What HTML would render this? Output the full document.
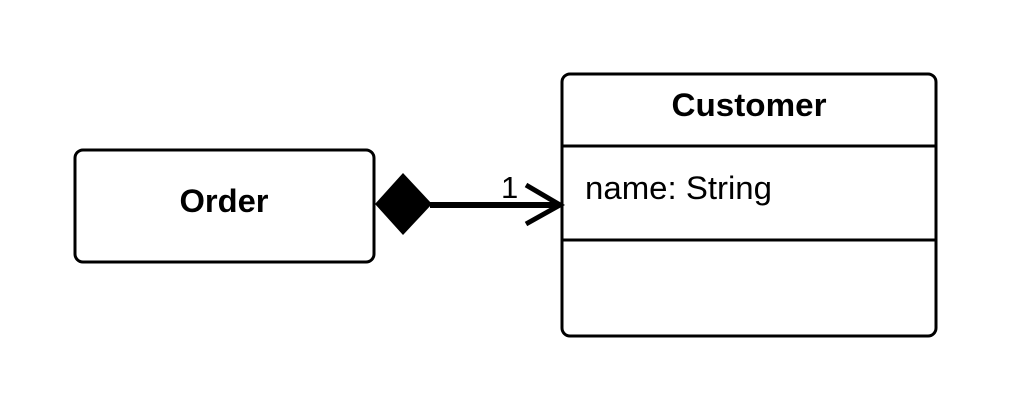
<!DOCTYPE html>
<html><head><style>body{margin:0;background:#fff}svg{display:block}</style></head>
<body>
<svg width="1013" height="413" xmlns="http://www.w3.org/2000/svg" font-family="Liberation Sans, sans-serif">
<rect width="1013" height="413" fill="#fff"/>
<rect x="75" y="150" width="299" height="112" rx="8" fill="#fff" stroke="#000" stroke-width="3"/>
<text x="224" y="212" text-anchor="middle" font-size="32" font-weight="bold" textLength="89" lengthAdjust="spacingAndGlyphs">Order</text>
<rect x="562" y="74" width="374" height="262" rx="8" fill="#fff" stroke="#000" stroke-width="3"/>
<line x1="562" y1="146" x2="936" y2="146" stroke="#000" stroke-width="3"/>
<line x1="562" y1="240" x2="936" y2="240" stroke="#000" stroke-width="3"/>
<text x="749" y="116" text-anchor="middle" font-size="32" font-weight="bold" textLength="155" lengthAdjust="spacingAndGlyphs">Customer</text>
<text x="585" y="199" font-size="32" textLength="187" lengthAdjust="spacingAndGlyphs">name: String</text>
<line x1="430" y1="205" x2="558" y2="205" stroke="#000" stroke-width="6"/>
<polygon points="375,204 403,173 432,204 403,235" fill="#000"/>
<polyline points="526,185 560,205 526,224" fill="none" stroke="#000" stroke-width="5"/>
<text x="501" y="198" font-size="31">1</text>
</svg>
</body></html>
